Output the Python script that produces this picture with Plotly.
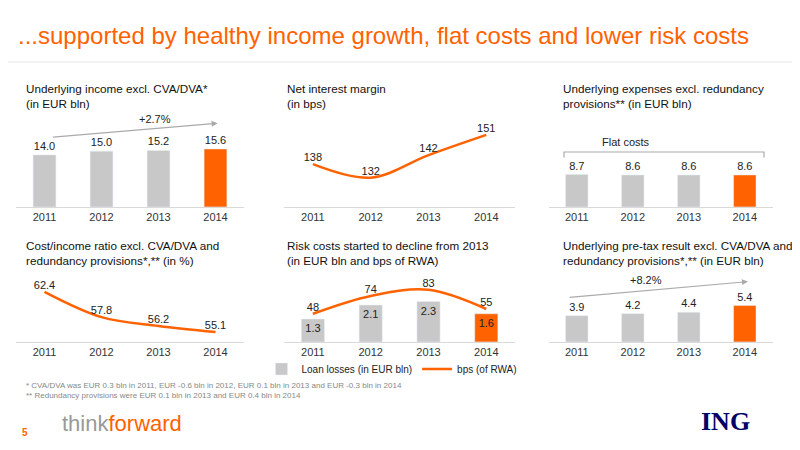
import plotly.graph_objects as go

years = ["2011", "2012", "2013", "2014"]
income = [14.0, 15.0, 15.2, 15.6]
nim = [138, 132, 142, 151]
expenses = [8.7, 8.6, 8.6, 8.6]
cost_income = [62.4, 57.8, 56.2, 55.1]
loan_losses = [1.3, 2.1, 2.3, 1.6]
risk_bps = [48, 74, 83, 55]
pretax = [3.9, 4.2, 4.4, 5.4]

ORANGE = "#FF6200"
GREY = "#C8C8C8"
bar_colors = [GREY, GREY, GREY, ORANGE]
FONT = "Liberation Sans"

cols = [[0.01, 0.295], [0.345, 0.634], [0.676, 0.956]]
rows = [[0.558, 0.738], [0.258, 0.418]]

fig = go.Figure()

def axes(n, col, row, yrange):
    sx = "" if n == 1 else str(n)
    fig.update_layout(**{
        "xaxis" + sx: dict(domain=cols[col], anchor="y" + sx, showgrid=False, showline=True,
                           range=[-0.5, 3.5], linecolor="#d9d9d9", ticks="",
                           tickfont=dict(size=11, color="#333")),
        "yaxis" + sx: dict(domain=rows[row], anchor="x" + sx, range=yrange, visible=False),
    })
    return "x" + sx, "y" + sx

def bars(n, col, row, vals, yrange):
    xa, ya = axes(n, col, row, yrange)
    fig.add_trace(go.Bar(x=years, y=vals, xaxis=xa, yaxis=ya, marker_color=bar_colors, width=0.4,
                         text=[f"{v:.1f}" for v in vals], textposition="outside",
                         textfont=dict(size=11, color="#222"), cliponaxis=False, showlegend=False))

def line(n, col, row, vals, yrange, fmt):
    xa, ya = axes(n, col, row, yrange)
    fig.add_trace(go.Scatter(x=years, y=vals, xaxis=xa, yaxis=ya, mode="lines+text",
                             line=dict(color=ORANGE, width=2.5, shape="spline"),
                             text=[fmt.format(v) for v in vals], textposition="top center",
                             textfont=dict(size=11, color="#222"), cliponaxis=False, showlegend=False))

bars(1, 0, 0, income, [0, 21.8])
line(2, 1, 0, nim, [119, 155], "{:d}")
bars(3, 2, 0, expenses, [0, 21.8])
line(4, 0, 1, cost_income, [53.3, 66.4], "{:.1f}")

# risk costs panel with secondary axis
xa, ya = axes(5, 1, 1, [0, 4.1])
fig.add_trace(go.Bar(x=years, y=loan_losses, xaxis=xa, yaxis=ya, marker_color=bar_colors, width=0.4,
                     text=[f"{v:.1f}" for v in loan_losses], textposition="inside", insidetextanchor="end",
                     textangle=0, textfont=dict(size=11, color="#222"),
                     name="Loan losses (in EUR bln)", showlegend=True))
fig.update_layout(yaxis7=dict(domain=rows[1], anchor="x5", overlaying="y5", range=[7, 112], visible=False))
fig.add_trace(go.Scatter(x=years, y=risk_bps, xaxis="x5", yaxis="y7", mode="lines+text",
                         line=dict(color=ORANGE, width=2.5, shape="spline"),
                         text=[str(v) for v in risk_bps], textposition="top center",
                         textfont=dict(size=11, color="#222"), cliponaxis=False, name="bps (of RWA)"))

bars(6, 2, 1, pretax, [0, 10.7])

titles = [
    (0.02, 0.841, "Underlying income excl. CVA/DVA*<br>(in EUR bln)"),
    (0.346, 0.841, "Net interest margin<br>(in bps)"),
    (0.691, 0.841, "Underlying expenses excl. redundancy<br>provisions** (in EUR bln)"),
    (0.02, 0.491, "Cost/income ratio excl. CVA/DVA and<br>redundancy provisions*,** (in %)"),
    (0.346, 0.491, "Risk costs started to decline from 2013<br>(in EUR bln and bps of RWA)"),
    (0.691, 0.491, "Underlying pre-tax result excl. CVA/DVA and<br>redundancy provisions*,** (in EUR bln)"),
]
for x, y, t in titles:
    fig.add_annotation(x=x, y=y, xref="paper", yref="paper", text=t, showarrow=False, align="left",
                       xanchor="left", yanchor="top", font=dict(size=11.7, color="#111"))

# growth arrows
fig.add_annotation(x=0.262, y=0.744, ax=-166, ay=14, xref="paper", yref="paper",
                   showarrow=True, arrowhead=2, arrowcolor="#aaa", arrowwidth=1.2, text="")
fig.add_annotation(x=0.161, y=0.735, xref="paper", yref="paper", text="+2.7%", showarrow=False,
                   font=dict(size=11, color="#222"), yanchor="bottom")
fig.add_annotation(x=0.925, y=0.392, ax=-180, ay=16, xref="paper", yref="paper",
                   showarrow=True, arrowhead=2, arrowcolor="#aaa", arrowwidth=1.2, text="")
fig.add_annotation(x=0.82, y=0.378, xref="paper", yref="paper", text="+8.2%", showarrow=False,
                   font=dict(size=11, color="#222"), yanchor="bottom")

# flat costs bracket
fig.add_shape(type="path", xref="paper", yref="paper",
              path="M 0.695 0.668 L 0.695 0.68 L 0.945 0.68 L 0.945 0.668",
              line=dict(color="#aaa", width=1.2))
fig.add_annotation(x=0.805, y=0.685, xref="paper", yref="paper", text="Flat costs", showarrow=False,
                   font=dict(size=11, color="#222"), yanchor="bottom")

# header, footnotes, footer
fig.add_annotation(x=0.01, y=0.973, xref="paper", yref="paper", xanchor="left",
                   text="...supported by healthy income growth, flat costs and lower risk costs",
                   showarrow=False, font=dict(size=24, color=ORANGE))
fig.add_shape(type="line", xref="paper", yref="paper", x0=0, x1=1, y0=0.88, y1=0.88,
              line=dict(color="#e6e6e6", width=1))
fig.add_annotation(x=0.02, y=0.175, xref="paper", yref="paper", xanchor="left", yanchor="top", align="left",
                   text="* CVA/DVA was EUR 0.3 bln in 2011, EUR -0.6 bln in 2012, EUR 0.1 bln in 2013 and EUR -0.3 bln in 2014"
                        "<br>** Redundancy provisions were EUR 0.1 bln in 2013 and EUR 0.4 bln in 2014",
                   showarrow=False, font=dict(size=8, color="#888"))
fig.add_annotation(x=0.015, y=0.04, xref="paper", yref="paper", xanchor="left", text="<b>5</b>",
                   showarrow=False, font=dict(size=10, color=ORANGE))
fig.add_annotation(x=0.065, y=0.045, xref="paper", yref="paper", xanchor="left",
                   text="think<span style='color:#FF6200'>forward</span>",
                   showarrow=False, font=dict(size=22, color="#999"))
fig.add_annotation(x=0.93, y=0.045, xref="paper", yref="paper", xanchor="right", text="<b>ING</b>",
                   showarrow=False, font=dict(size=26, color="#000066", family="Liberation Serif"))

fig.update_layout(width=800, height=450, margin=dict(l=0, r=0, t=0, b=0), plot_bgcolor="white",
                  paper_bgcolor="white", font=dict(family=FONT), bargap=0.5,
                  legend=dict(orientation="h", x=0.48, y=0.23, xanchor="center", yanchor="top",
                              font=dict(size=10, color="#222"), bgcolor="rgba(0,0,0,0)"))
fig.write_html("out.html")
